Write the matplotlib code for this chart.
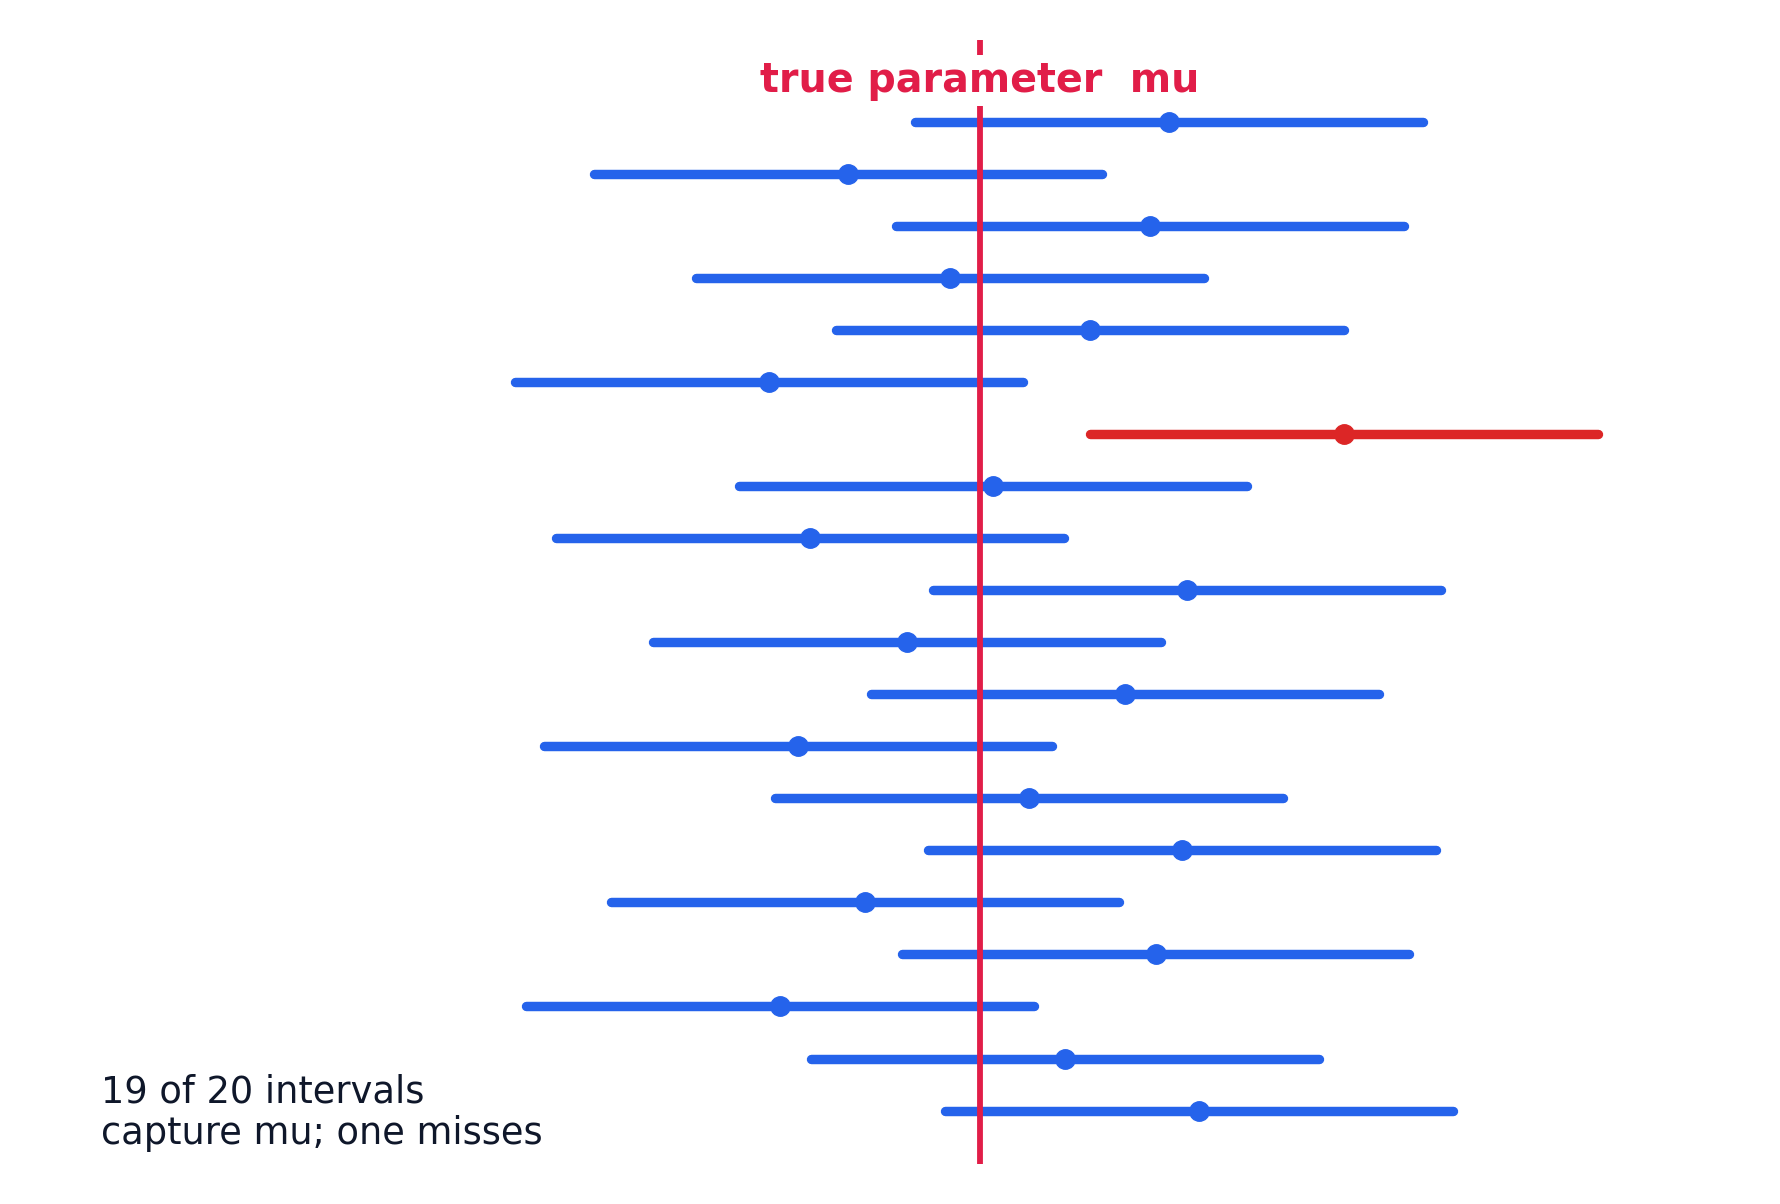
import numpy as np
import matplotlib.pyplot as plt

mu = 0.0
half_width = 1.94
estimates = [1.44, -1.01, 1.30, -0.23, 0.84, -1.61, 2.78, 0.10, -1.30, 1.58,
             -0.56, 1.11, -1.39, 0.37, 1.54, -0.88, 1.34, -1.53, 0.65, 1.67]
title_text = "true parameter  mu"
note_text = "19 of 20 intervals\ncapture mu; one misses"

blue = "#2563EB"
miss_red = "#DC2626"
mu_red = "#E11D48"

fig = plt.figure(figsize=(17.8, 12.04), dpi=100)
ax = fig.add_axes([0, 0.0336, 1, 0.9335])

for i, est in enumerate(estimates):
    lo, hi = est - half_width, est + half_width
    color = blue if lo <= mu <= hi else miss_red
    ax.plot([lo, hi], [i, i], color=color, lw=6.8, solid_capstyle="round", zorder=2)
    ax.plot(est, i, "o", color=color, ms=14, zorder=3)

ax.axvline(mu, color=mu_red, lw=4.2, zorder=4)
ax.text(mu, -0.8, title_text, color=mu_red, fontsize=28.5, fontweight="bold",
        ha="center", va="center", zorder=5,
        bbox=dict(facecolor="white", edgecolor="none", pad=4))

ax.set_xlim(-7.486, 6.11)
ax.set_ylim(20.02, -1.593)
ax.axis("off")

fig.text(101 / 1780, 1 - 1113 / 1204, note_text, fontsize=26.5, color="#0F172A",
         ha="left", va="center", linespacing=1.15)

fig.savefig("out.png", dpi=100)
